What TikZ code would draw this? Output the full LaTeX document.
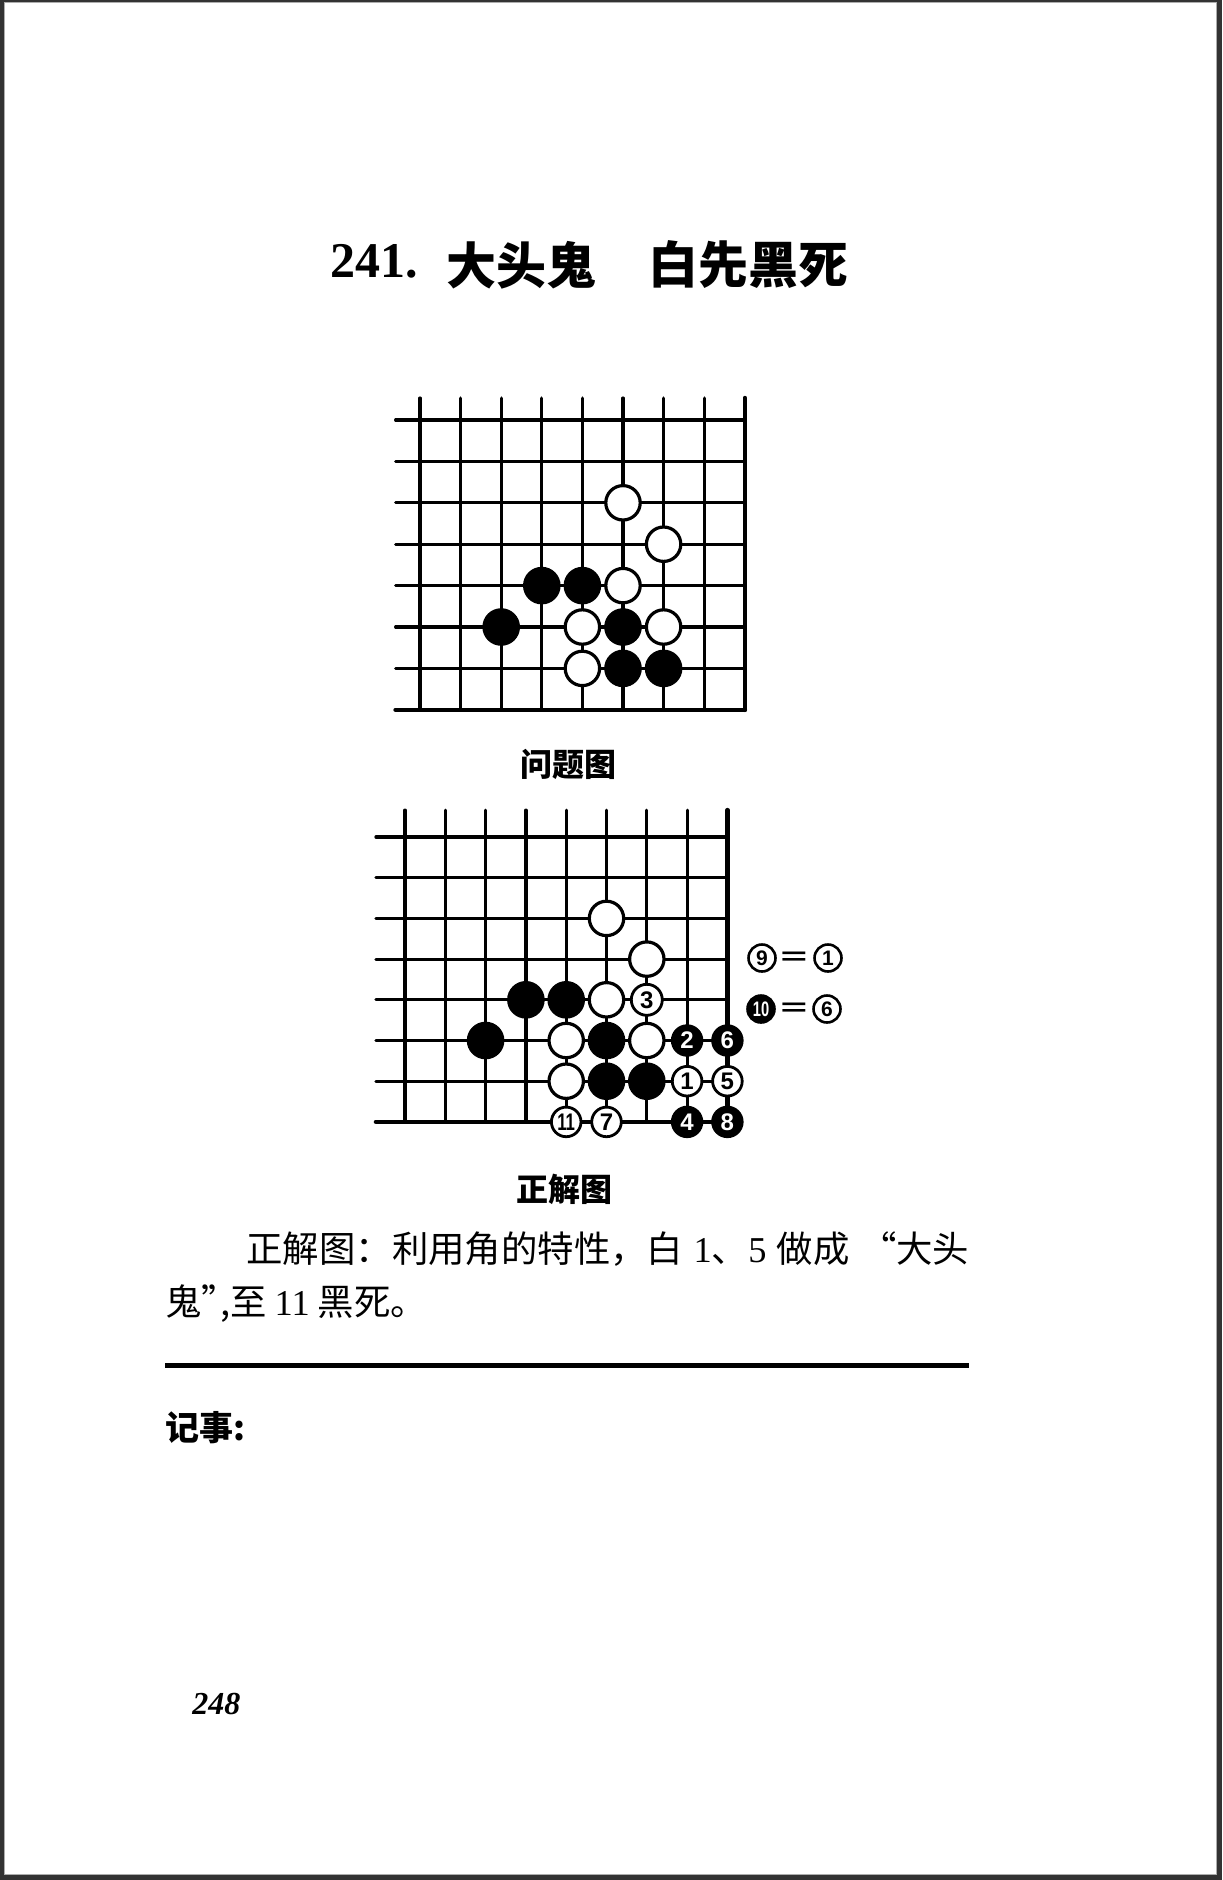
\documentclass[tikz,border=0pt]{standalone}
\usepackage{fontspec}
\setmainfont{Liberation Serif}
\newfontfamily\cjk{Noto Sans CJK SC}
\newfontfamily\stonefont{Liberation Sans}
\usepackage{tikz}
\usetikzlibrary{positioning}
\definecolor{framegray}{HTML}{333333}
\newcommand{\latnum}[1]{{\rmfamily #1}}
\tikzset{
    gridline/.style={line width=1.6pt, line cap=round},
    edgeline/.style={line width=2.3pt, line cap=round},
    wstone/.style={circle, draw=black, line width=1.6pt, fill=white, minimum size=17.2pt, inner sep=0pt},
    bstone/.style={wstone, fill=black},
    wmove/.style={circle, draw=black, line width=1.4pt, fill=white, minimum size=14.8pt, inner sep=0pt, font=\stonefont\bfseries\fontsize{12}{12}\selectfont},
    bmove/.style={wmove, fill=black, text=white},
    legw/.style={wmove, minimum size=13.5pt, line width=1.3pt, font=\stonefont\bfseries\fontsize{10.5}{10.5}\selectfont},
    legb/.style={legw, fill=black, text=white},
    caption/.style={inner sep=0pt, font=\cjk\bfseries\fontsize{16}{18}\selectfont},
    bodytext/.style={inner sep=0pt, anchor=west, font=\cjk\fontsize{18.2}{22}\selectfont}
}
\begin{document}
\begin{tikzpicture}[
        x=0.5pt, y=-0.5pt,
        % title pieces
        titlenum/.style={inner sep=0pt, anchor=base west, font=\bfseries\fontsize{25}{28}\selectfont},
        titlecjk/.style={inner sep=0pt, font=\cjk\bfseries\fontsize{25}{28}\selectfont},
        eqsign/.style={inner sep=0pt, font=\stonefont\bfseries\fontsize{12}{12}\selectfont}
    ]

    \useasboundingbox (0,0) rectangle (1222,1880);

    % page and its dark scan border
    \fill[framegray] (0,0) rectangle (1222,1880);
    \fill[white] (4,2) rectangle (1217,1875);
    \draw[framegray!40, line width=0.6pt] (4.5,2.5) rectangle (1216.5,1874.5);

    % --- TITLE ---
    \node[titlenum] (tnum) at (330,277) {241.};
    \node[titlecjk] (tname) at (521,265) {大头鬼};
    \node[titlecjk] (ttask) at (748,265) {白先黑死};

    % --- PROBLEM DIAGRAM ---
    \begin{scope}[shift={(420,420)}, x=20.3pt, y=-20.7pt]
        % grid: lower right corner of the board
        \foreach \c in {0,...,7}
            \draw[gridline] (\c,-0.53) -- (\c,7);
        \draw[edgeline] (8,-0.53) -- (8,7);
        \foreach \r in {0,...,6}
            \draw[gridline] (-0.6,\r) -- (8,\r);
        \draw[edgeline] (-0.6,7) -- (8,7);

        % stones
        \foreach \c/\r [count=\i] in {5/2, 6/3, 5/4, 4/5, 6/5, 4/6}
            \node[wstone] (qW\i) at (\c,\r) {};
        \foreach \c/\r [count=\i] in {3/4, 4/4, 2/5, 5/5, 5/6, 6/6}
            \node[bstone] (qB\i) at (\c,\r) {};
    \end{scope}

    \node[caption] (qcap) at (568,764) {问题图};

    % --- SOLUTION DIAGRAM ---
    \begin{scope}[shift={(405,837)}, x=20.15pt, y=-20.35pt]
        % grid
        \foreach \c in {0,...,7}
            \draw[gridline] (\c,-0.66) -- (\c,7);
        \draw[edgeline] (8,-0.66) -- (8,7);
        \foreach \r in {0,...,6}
            \draw[gridline] (-0.72,\r) -- (8,\r);
        \draw[edgeline] (-0.72,7) -- (8,7);

        % stones already on the board
        \foreach \c/\r [count=\i] in {5/2, 6/3, 5/4, 4/5, 6/5, 4/6}
            \node[wstone] (sW\i) at (\c,\r) {};
        \foreach \c/\r [count=\i] in {3/4, 4/4, 2/5, 5/5, 5/6, 6/6}
            \node[bstone] (sB\i) at (\c,\r) {};

        % moves of the solution
        \node[wmove] (m1) at (7,6) {1};
        \node[bmove] (m2) at (7,5) {2};
        \node[wmove, minimum size=15.5pt] (m3) at (6,4) {3};
        \node[bmove] (m4) at (7,7) {4};
        \node[wmove] (m5) at (8,6) {5};
        \node[bmove] (m6) at (8,5) {6};
        \node[wmove] (m7) at (5,7) {7};
        \node[bmove] (m8) at (8,7) {8};
        \node[wmove] (m11) at (4,7) {\scalebox{0.7}[1]{11}};
    \end{scope}

    % legend: moves played on earlier points
    \node[legw] (leg9) at (762,958) {9};
    \node[eqsign] (eqA) at (794,958) {\scalebox{1.9}[1]{=}};
    \node[legw] (leg1) at (828,958) {1};
    \node[legb] (leg10) at (761,1009) {\scalebox{0.7}[1]{10}};
    \node[eqsign] (eqB) at (794,1009) {\scalebox{1.9}[1]{=}};
    \node[legw] (leg6) at (827,1009) {6};

    \node[caption] (scap) at (564,1189) {正解图};

    % --- COMMENTARY ---
    \node[bodytext] (line1) at (246,1249)
        {\makebox[361.5pt][s]{正解图：利用角的特性，白 \latnum{1}、\latnum{5} 做成 “大头}};
    \node[bodytext] (line2) at (165,1304) {鬼”\kern-0.5em,至 \latnum{11} 黑死。};

    \draw[line width=2.5pt] (165,1365) -- (969,1365);

    \node[inner sep=0pt, anchor=west, font=\cjk\bfseries\fontsize{17}{20}\selectfont] (notes) at (165,1428) {记事:};

    % page number
    \node[inner sep=0pt, anchor=west, font=\itshape\bfseries\fontsize{16}{18}\selectfont] (pageno) at (192,1704) {248};

\end{tikzpicture}
\end{document}
